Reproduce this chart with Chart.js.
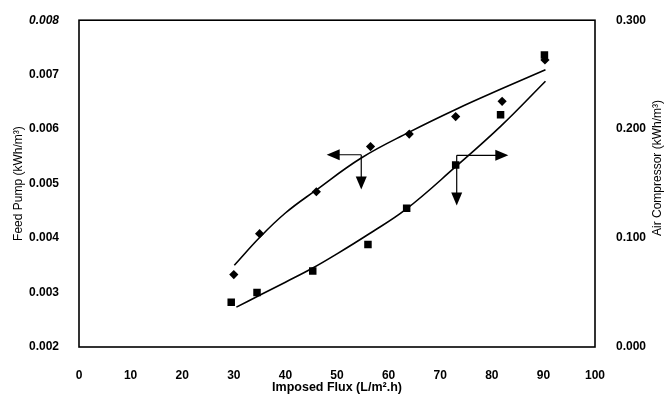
<!DOCTYPE html>
<html><head><meta charset="utf-8">
<script src="https://cdn.jsdelivr.net/npm/chart.js@4.4.1/dist/chart.umd.min.js"></script>
<style>html,body{margin:0;padding:0;background:#fff}</style>
</head><body>
<canvas id="c" width="670" height="403"></canvas>
<script>
// Measured data
const fluxFeed = [30, 35, 46, 56.5, 64, 73, 82, 90.3];
const feedPump = [0.00333, 0.00408, 0.00485, 0.00568, 0.00591, 0.00623, 0.00651, 0.00727];
const fluxAir = [29.5, 34.5, 45.3, 56, 63.5, 73, 81.7, 90.2];
const airCompressor = [0.041, 0.050, 0.0698, 0.094, 0.1273, 0.1671, 0.2132, 0.268];
// Trend curves
const fitFeedX = [30.1, 35.0, 40.0, 45.8, 54.7, 63.9, 73.2, 81.9, 90.4];
const fitFeedY = [0.00350, 0.00401, 0.00446, 0.00487, 0.00547, 0.00594, 0.00637, 0.00674, 0.00709];
const fitAirX = [30.5, 35.0, 40.0, 45.3, 50.0, 56.1, 63.4, 73.0, 81.8, 90.4];
const fitAirY = [0.0366, 0.0475, 0.0595, 0.0725, 0.0855, 0.1035, 0.1265, 0.1655, 0.2030, 0.2440];
// Tick labels
const xTicks = [0, 10, 20, 30, 40, 50, 60, 70, 80, 90, 100];
const leftTicks = [0.002, 0.003, 0.004, 0.005, 0.006, 0.007, 0.008];
const rightTicks = [0.000, 0.100, 0.200, 0.300];
// Arrow annotations: [anchorX, anchorY, tipX, tipY] in data units
const arrowFeed = [54.7, 0.00553, 48.0, 0.00489];   // left axis: points left and down
const arrowAir = [73.2, 0.176, 83.2, 0.130];        // right axis: points right and down

const FONT = "'Liberation Sans', Arial, sans-serif";

const pts = (xs, ys) => xs.map((x, i) => ({x, y: ys[i]}));

const framePlugin = {
  id: 'frame',
  beforeDatasetsDraw(chart) {
    const a = chart.chartArea, c = chart.ctx;
    c.save();
    c.strokeStyle = '#000';
    c.lineWidth = 1.6;
    c.strokeRect(a.left, a.top, a.right - a.left, a.bottom - a.top);
    c.restore();
  },
  afterDraw(chart) {
    const c = chart.ctx, xs = chart.scales.x, yl = chart.scales.y, yr = chart.scales.y2;
    function head(x, y, dir) {
      const L = 13, W = 5.5;
      c.beginPath();
      if (dir === 'left') { c.moveTo(x, y); c.lineTo(x + L, y - W); c.lineTo(x + L, y + W); }
      if (dir === 'right') { c.moveTo(x, y); c.lineTo(x - L, y - W); c.lineTo(x - L, y + W); }
      if (dir === 'down') { c.moveTo(x, y); c.lineTo(x - W, y - L); c.lineTo(x + W, y - L); }
      c.closePath(); c.fill();
    }
    function arrow(a, ys, hdir) {
      const ax = xs.getPixelForValue(a[0]), ay = ys.getPixelForValue(a[1]);
      const tx = xs.getPixelForValue(a[2]), ty = ys.getPixelForValue(a[3]);
      c.save();
      c.strokeStyle = '#000'; c.fillStyle = '#000'; c.lineWidth = 1.2;
      c.beginPath();
      c.moveTo(ax, ay); c.lineTo(tx + (hdir === 'left' ? 12 : -12), ay);
      c.moveTo(ax, ay); c.lineTo(ax, ty - 12);
      c.stroke();
      head(tx, ay, hdir);
      head(ax, ty, 'down');
      c.restore();
    }
    arrow(arrowFeed, yl, 'left');
    arrow(arrowAir, yr, 'right');
    // right axis title, reading bottom to top
    c.save();
    c.fillStyle = '#000';
    c.font = "12px " + FONT;
    c.textAlign = 'center'; c.textBaseline = 'middle';
    c.translate(658, 168);
    c.rotate(-Math.PI / 2);
    c.fillText('Air Compressor (kWh/m³)', 0, 0);
    c.restore();
  }
};

new Chart(document.getElementById('c'), {
  type: 'scatter',
  data: {
    datasets: [
      { label: 'Feed Pump', data: pts(fluxFeed, feedPump), yAxisID: 'y',
        pointStyle: 'rectRot', pointRadius: 4.6, pointHoverRadius: 4.6,
        backgroundColor: '#000', borderColor: '#000', borderWidth: 0 },
      { label: 'Air Compressor', data: pts(fluxAir, airCompressor), yAxisID: 'y2',
        pointStyle: 'rect', pointRadius: 5.3, pointHoverRadius: 5.3,
        backgroundColor: '#000', borderColor: '#000', borderWidth: 0 },
      { label: 'Feed fit', data: pts(fitFeedX, fitFeedY), yAxisID: 'y', showLine: true,
        pointRadius: 0, borderColor: '#000', borderWidth: 1.6, tension: 0.4, fill: false },
      { label: 'Air fit', data: pts(fitAirX, fitAirY), yAxisID: 'y2', showLine: true,
        pointRadius: 0, borderColor: '#000', borderWidth: 1.6, tension: 0.4, fill: false }
    ]
  },
  options: {
    responsive: false,
    devicePixelRatio: 1,
    animation: false,
    layout: { padding: { top: 12, left: 0, right: 0, bottom: 0 } },
    plugins: { legend: { display: false }, tooltip: { enabled: false } },
    scales: {
      x: {
        type: 'linear', min: 0, max: 100,
        afterBuildTicks: s => { s.ticks = xTicks.map(v => ({value: v})); },
        grid: { display: false }, border: { display: false },
        ticks: { color: '#000', padding: 13, font: { family: FONT, size: 12, weight: 'bold' } },
        title: { display: true, text: 'Imposed Flux (L/m².h)', color: '#000',
          font: { family: FONT, size: 12.5, weight: 'bold' }, padding: { top: 0, bottom: 8 } },
        afterFit: s => { s.height = 56; }
      },
      y: {
        type: 'linear', position: 'left', min: 0.002, max: 0.008,
        afterBuildTicks: s => { s.ticks = leftTicks.map(v => ({value: v})); },
        grid: { display: false }, border: { display: false },
        ticks: { color: '#000', padding: 12, callback: v => v.toFixed(3),
          font: c => ({ family: FONT, size: 12, weight: 'bold', style: (c.tick && Math.abs(c.tick.value - 0.008) < 1e-9) ? 'italic' : 'normal' }) },
        title: { display: true, text: 'Feed Pump (kWh/m³)', color: '#000',
          font: { family: FONT, size: 12 }, padding: { top: 11, bottom: 0 } },
        afterFit: s => { s.width = 79; }
      },
      y2: {
        type: 'linear', position: 'right', min: 0, max: 0.3,
        afterBuildTicks: s => { s.ticks = rightTicks.map(v => ({value: v})); },
        grid: { display: false }, border: { display: false },
        ticks: { color: '#000', padding: 13, callback: v => v.toFixed(3),
          font: { family: FONT, size: 12, weight: 'bold' } },
        afterFit: s => { s.width = 75; }
      }
    }
  },
  plugins: [framePlugin]
});
</script>
</body></html>
